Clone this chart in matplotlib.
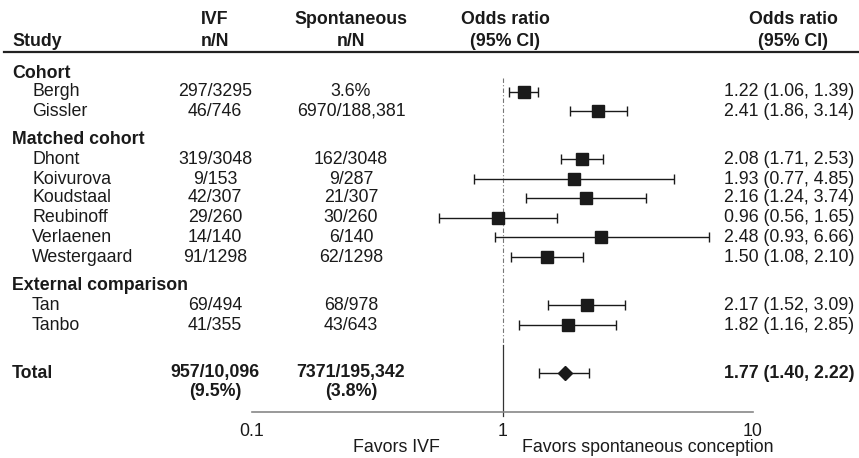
import matplotlib
matplotlib.use("Agg")
import matplotlib.pyplot as plt

plt.rcParams['font.family'] = ['Liberation Sans', 'DejaVu Sans']

# ---------------- data ----------------
groups = ["Cohort", "Matched cohort", "External comparison"]
group_members = [
    ["Bergh", "Gissler"],
    ["Dhont", "Koivurova", "Koudstaal", "Reubinoff", "Verlaenen", "Westergaard"],
    ["Tan", "Tanbo"],
]
ivf_nN = ["297/3295", "46/746",
          "319/3048", "9/153", "42/307", "29/260", "14/140", "91/1298",
          "69/494", "41/355"]
spont_nN = ["3.6%", "6970/188,381",
            "162/3048", "9/287", "21/307", "30/260", "6/140", "62/1298",
            "68/978", "43/643"]
odds = [1.22, 2.41, 2.08, 1.93, 2.16, 0.96, 2.48, 1.50, 2.17, 1.82]
ci_low = [1.06, 1.86, 1.71, 0.77, 1.24, 0.56, 0.93, 1.08, 1.52, 1.16]
ci_high = [1.39, 3.14, 2.53, 4.85, 3.74, 1.65, 6.66, 2.10, 3.09, 2.85]

total_ivf = "957/10,096"
total_ivf_pct = "(9.5%)"
total_spont = "7371/195,342"
total_spont_pct = "(3.8%)"
total_or = 1.77
total_low = 1.40
total_high = 2.22

tick_values = [0.1, 1, 10]
tick_labels = ["0.1", "1", "10"]

# ---------------- layout (pixels) ----------------
W, H = 859, 458
fig = plt.figure(figsize=(W / 100, H / 100), dpi=100)

ax_t = fig.add_axes([0, 0, 1, 1])
ax_t.set_xlim(0, W)
ax_t.set_ylim(H, 0)
ax_t.axis("off")

x0_px, x1_px = 252, 753  # positions of 0.1 and 10
ax_f = fig.add_axes([x0_px / W, 0, (x1_px - x0_px) / W, 1])
ax_f.patch.set_alpha(0)
ax_f.set_xscale("log")
ax_f.set_xlim(0.1, 10)
ax_f.set_ylim(H, 0)

FS = 12.8
TXT = "#1a1a1a"
col_study, col_sub = 12, 32
col_ivf, col_sp, col_mid, col_right = 215, 351, 505, 854
col_right_hdr = 793

# header
hdr_y1, hdr_y2 = 19, 41
def t(x, y, s, ha="center", bold=False):
    ax_t.text(x, y, s, fontsize=FS, weight="bold" if bold else "normal",
              va="center", ha=ha, color=TXT)

t(col_study, hdr_y2, "Study", ha="left", bold=True)
t(col_ivf, hdr_y1, "IVF", bold=True)
t(col_ivf, hdr_y2, "n/N", bold=True)
t(col_sp, hdr_y1, "Spontaneous", bold=True)
t(col_sp, hdr_y2, "n/N", bold=True)
t(col_mid, hdr_y1, "Odds ratio", bold=True)
t(col_mid, hdr_y2, "(95% CI)", bold=True)
t(col_right_hdr, hdr_y1, "Odds ratio", bold=True)
t(col_right_hdr, hdr_y2, "(95% CI)", bold=True)
ax_t.plot([4, W], [52, 52], color="#222222", lw=1.6)

# rows
group_y = [73, 140, 286]
row_y = [92, 111, 159, 179, 198, 218, 237, 257, 305, 325]

i = 0
for g, gy, members in zip(groups, group_y, group_members):
    t(col_study, gy, g, ha="left", bold=True)
    for name in members:
        y = row_y[i]
        t(col_sub, y, name, ha="left")
        t(col_ivf, y, ivf_nN[i])
        t(col_sp, y, spont_nN[i])
        t(col_right, y, f"{odds[i]:.2f} ({ci_low[i]:.2f}, {ci_high[i]:.2f})", ha="right")
        ax_f.errorbar(odds[i], y,
                      xerr=[[odds[i] - ci_low[i]], [ci_high[i] - odds[i]]],
                      fmt="s", color="#1a1a1a", ms=8.5, elinewidth=1.0,
                      capsize=3.5, capthick=1.0, zorder=3)
        i += 1

# total
ty1, ty2 = 373, 392
t(col_study, ty1, "Total", ha="left", bold=True)
t(col_ivf, ty1, total_ivf, bold=True)
t(col_ivf, ty2, total_ivf_pct, bold=True)
t(col_sp, ty1, total_spont, bold=True)
t(col_sp, ty2, total_spont_pct, bold=True)
t(col_right, ty1, f"{total_or:.2f} ({total_low:.2f}, {total_high:.2f})", ha="right", bold=True)
ax_f.errorbar(total_or, ty1,
              xerr=[[total_or - total_low], [total_high - total_or]],
              fmt="D", color="#1a1a1a", ms=7, elinewidth=1.0,
              capsize=3.5, capthick=1.0, zorder=3)

# reference line and axis
axis_y = 412
ax_f.plot([1, 1], [78, 345], color="#777777", lw=0.8,
          linestyle=(0, (4, 2, 1, 2)), zorder=1)
ax_f.plot([1, 1], [345, axis_y + 4], color="#333333", lw=0.9, zorder=1)
for s in ["top", "left", "right"]:
    ax_f.spines[s].set_visible(False)
ax_f.spines["bottom"].set_position(("data", axis_y))
ax_f.spines["bottom"].set_color("#888888")
ax_f.spines["bottom"].set_linewidth(1.2)
ax_f.set_yticks([])
ax_f.set_xticks(tick_values)
ax_f.set_xticklabels(tick_labels)
ax_f.xaxis.set_minor_locator(matplotlib.ticker.NullLocator())
ax_f.tick_params(axis="x", length=0, pad=8, labelsize=FS, labelcolor=TXT)

t(440, 448, "Favors IVF", ha="right")
t(522, 448, "Favors spontaneous conception", ha="left")

fig.savefig("out.png", dpi=100)
